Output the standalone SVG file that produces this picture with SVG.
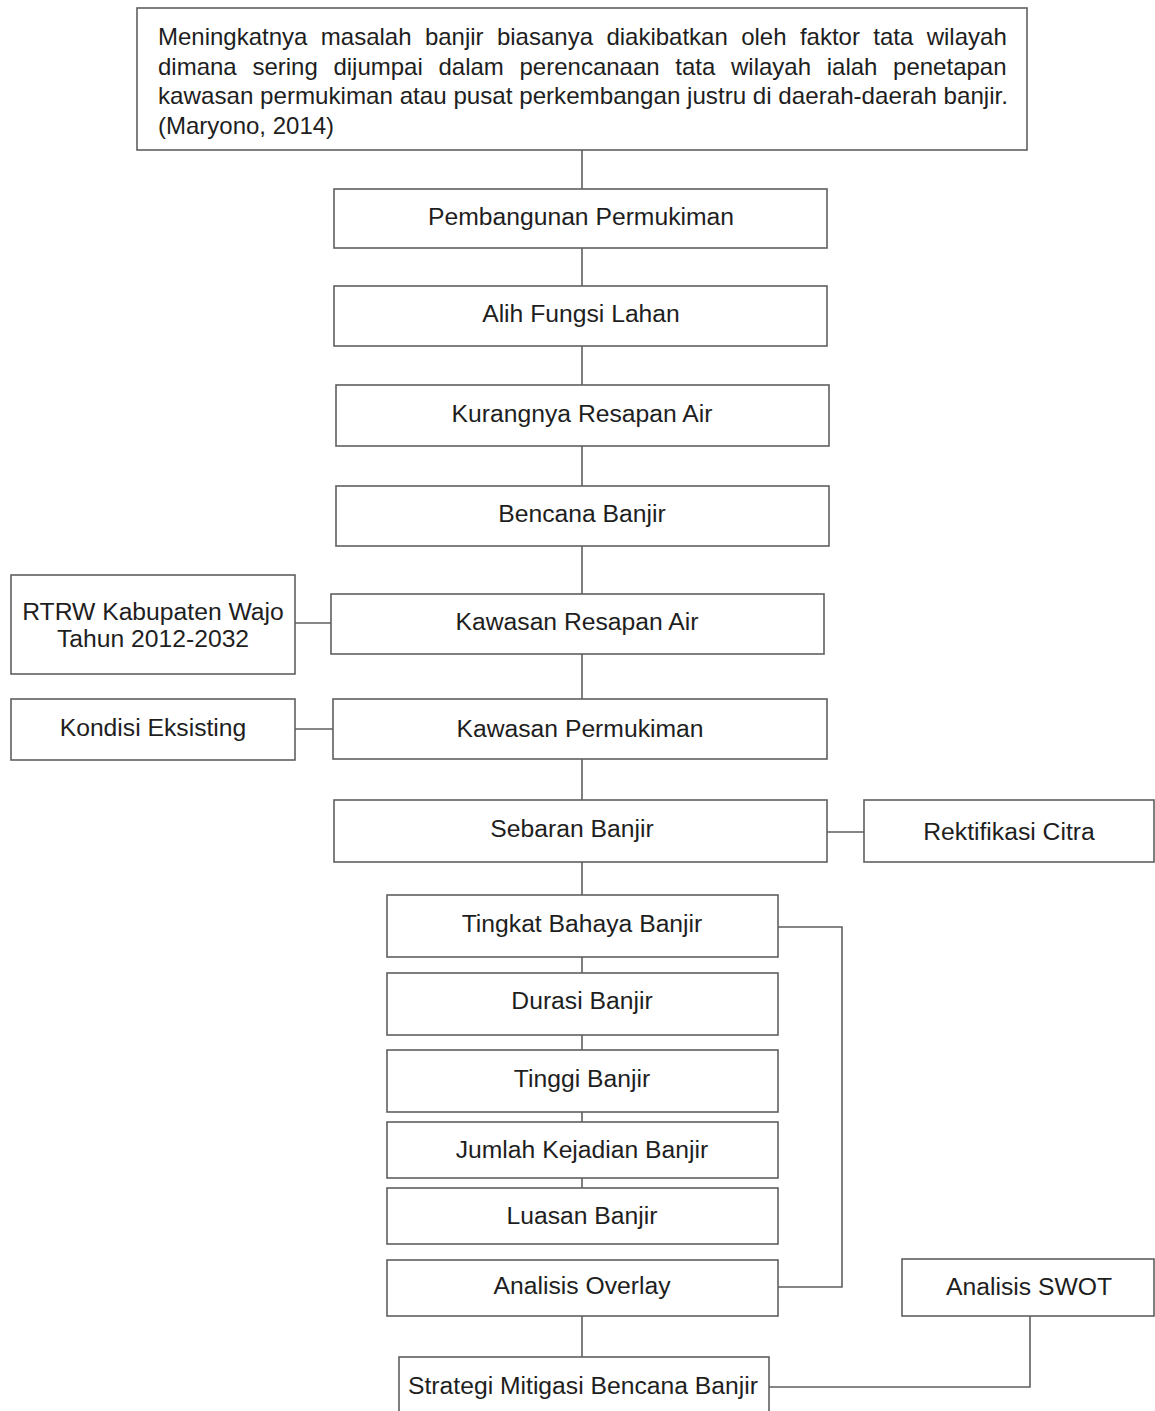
<svg xmlns="http://www.w3.org/2000/svg" width="1155" height="1411" viewBox="0 0 1155 1411">
<style>
rect{fill:#fff;stroke:#5f5f5f;stroke-width:1.6}
text{font-family:"Liberation Sans",Arial,sans-serif;font-size:24.7px;fill:#1e1e1e}
.t{font-size:24px}
.c{text-anchor:middle}
#connectors path{fill:none;stroke:#5f5f5f;stroke-width:1.6}
</style>
<rect x="0" y="0" width="1155" height="1411" style="fill:#fff;stroke:none"/>
<g id="connectors">
<path d="M582 150V189M582 248V286M582 346V386M582 446V486M582 546V594M582 654V699M582 759V800M582 862V895M582 957V973M582 1035V1050M582 1112V1122M582 1178V1188M582 1316V1357"/>
<path d="M295 623H331"/>
<path d="M295 729H333"/>
<path d="M827 832H864"/>
<path d="M778 927H842V1287H778"/>
<path d="M769 1387H1030V1316"/>
</g>
<g id="n-top">
<rect x="137" y="8" width="890" height="142"/>
<text class="t" x="158" y="45" style="word-spacing:6.7px">Meningkatnya masalah banjir biasanya diakibatkan oleh faktor tata wilayah</text>
<text class="t" x="158" y="74.5" style="word-spacing:9px">dimana sering dijumpai dalam perencanaan tata wilayah ialah penetapan</text>
<text class="t" x="158" y="104" textLength="850" lengthAdjust="spacingAndGlyphs">kawasan permukiman atau pusat perkembangan justru di daerah-daerah banjir.</text>
<text class="t" x="158" y="133.5">(Maryono, 2014)</text>
</g>
<g id="n-pembangunan"><rect x="334" y="189" width="493" height="59"/><text class="c" x="581" y="225">Pembangunan Permukiman</text></g>
<g id="n-alih"><rect x="334" y="286" width="493" height="60"/><text class="c" x="581" y="322">Alih Fungsi Lahan</text></g>
<g id="n-kurangnya"><rect x="336" y="385" width="493" height="61"/><text class="c" x="582" y="422">Kurangnya Resapan Air</text></g>
<g id="n-bencana"><rect x="336" y="486" width="493" height="60"/><text class="c" x="582" y="522">Bencana Banjir</text></g>
<g id="n-rtrw"><rect x="11" y="575" width="284" height="99"/><text class="c" x="153" y="620">RTRW Kabupaten Wajo</text><text class="c" x="153" y="647">Tahun 2012-2032</text></g>
<g id="n-kawasan-resapan"><rect x="331" y="594" width="493" height="60"/><text class="c" x="577" y="630">Kawasan Resapan Air</text></g>
<g id="n-kondisi"><rect x="11" y="699" width="284" height="61"/><text class="c" x="153" y="736">Kondisi Eksisting</text></g>
<g id="n-kawasan-permukiman"><rect x="333" y="699" width="494" height="60"/><text class="c" x="580" y="737">Kawasan Permukiman</text></g>
<g id="n-sebaran"><rect x="334" y="800" width="493" height="62"/><text class="c" x="572" y="837">Sebaran Banjir</text></g>
<g id="n-rektifikasi"><rect x="864" y="800" width="290" height="62"/><text class="c" x="1009" y="840">Rektifikasi Citra</text></g>
<g id="n-tingkat"><rect x="387" y="895" width="391" height="62"/><text class="c" x="582" y="932">Tingkat Bahaya Banjir</text></g>
<g id="n-durasi"><rect x="387" y="973" width="391" height="62"/><text class="c" x="582" y="1009">Durasi Banjir</text></g>
<g id="n-tinggi"><rect x="387" y="1050" width="391" height="62"/><text class="c" x="582" y="1087">Tinggi Banjir</text></g>
<g id="n-jumlah"><rect x="387" y="1122" width="391" height="56"/><text class="c" x="582" y="1158">Jumlah Kejadian Banjir</text></g>
<g id="n-luasan"><rect x="387" y="1188" width="391" height="56"/><text class="c" x="582" y="1224">Luasan Banjir</text></g>
<g id="n-overlay"><rect x="387" y="1260" width="391" height="56"/><text class="c" x="582" y="1294">Analisis Overlay</text></g>
<g id="n-swot"><rect x="902" y="1259" width="252" height="57"/><text class="c" x="1029" y="1295">Analisis SWOT</text></g>
<g id="n-strategi"><rect x="399" y="1357" width="370" height="70"/><text class="c" x="583" y="1394">Strategi Mitigasi Bencana Banjir</text></g>
</svg>
